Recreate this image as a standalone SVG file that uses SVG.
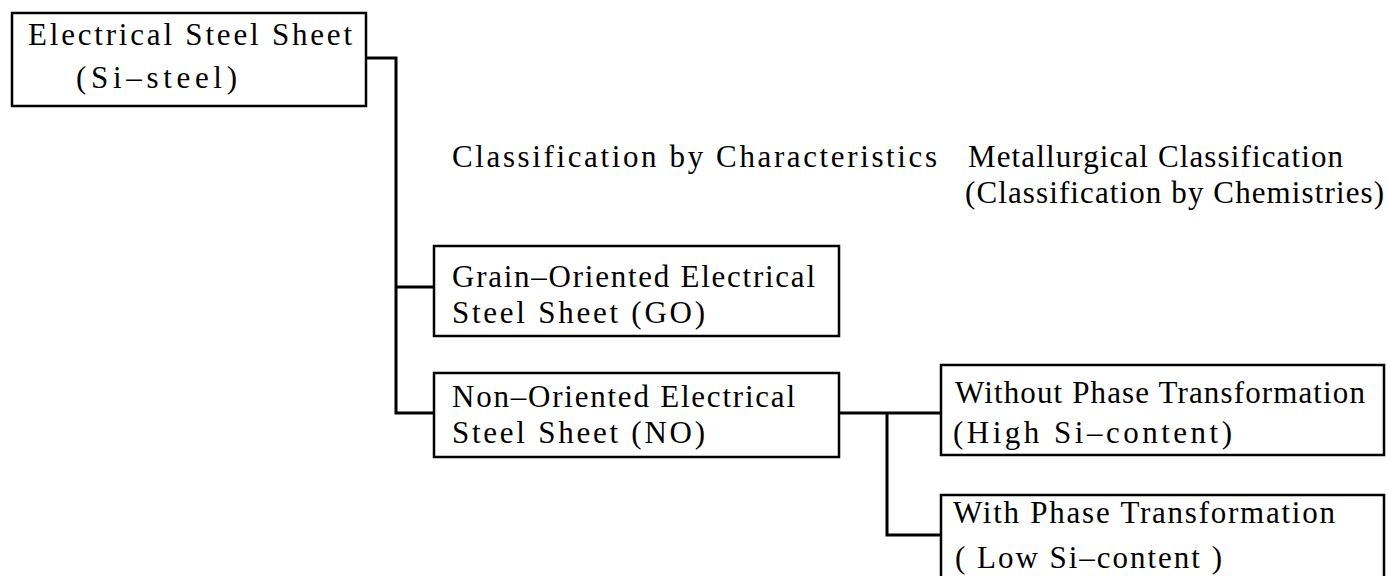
<svg xmlns="http://www.w3.org/2000/svg" width="1387" height="576" viewBox="0 0 1387 576">
<style>
.box{fill:#fff;stroke:#000;stroke-width:2.5}
.con{fill:none;stroke:#000;stroke-width:3}
text{font-family:"Liberation Serif","Times New Roman",serif;font-size:31px;fill:#000}
</style>
<rect width="1387" height="576" fill="#fff"/>
<g id="connectors">
<polyline class="con" points="366,58 396,58 396,413 434,413"/>
<line class="con" x1="396" y1="287" x2="434" y2="287"/>
<line class="con" x1="839" y1="413" x2="941" y2="413"/>
<polyline class="con" points="887,413 887,535 941,535"/>
</g>
<g id="n-root">
<rect class="box" x="12" y="13" width="354" height="93"/>
<text x="28" y="45" textLength="324" lengthAdjust="spacing">Electrical Steel Sheet</text>
<text x="76" y="88" textLength="161" lengthAdjust="spacing">(Si–steel)</text>
</g>
<g id="label-char">
<text x="452" y="167" textLength="485" lengthAdjust="spacing">Classification by Characteristics</text>
</g>
<g id="label-metal">
<text x="968" y="167" textLength="375" lengthAdjust="spacing">Metallurgical Classification</text>
<text x="965" y="203" textLength="419" lengthAdjust="spacing">(Classification by Chemistries)</text>
</g>
<g id="n-go">
<rect class="box" x="434" y="246" width="405" height="90"/>
<text x="452" y="287" textLength="363" lengthAdjust="spacing">Grain–Oriented Electrical</text>
<text x="452" y="323" textLength="253" lengthAdjust="spacing">Steel Sheet (GO)</text>
</g>
<g id="n-no">
<rect class="box" x="434" y="373" width="405" height="84"/>
<text x="452" y="407" textLength="343" lengthAdjust="spacing">Non–Oriented Electrical</text>
<text x="452" y="443" textLength="253" lengthAdjust="spacing">Steel Sheet (NO)</text>
</g>
<g id="n-without">
<rect class="box" x="941" y="365" width="443" height="90"/>
<text x="955" y="403" textLength="410" lengthAdjust="spacing">Without Phase Transformation</text>
<text x="953" y="443" textLength="279" lengthAdjust="spacing">(High Si–content)</text>
</g>
<g id="n-with">
<rect class="box" x="941" y="495" width="443" height="90"/>
<text x="953" y="523" textLength="382" lengthAdjust="spacing">With Phase Transformation</text>
<text x="955" y="568" textLength="267" lengthAdjust="spacing">( Low Si–content )</text>
</g>
</svg>
